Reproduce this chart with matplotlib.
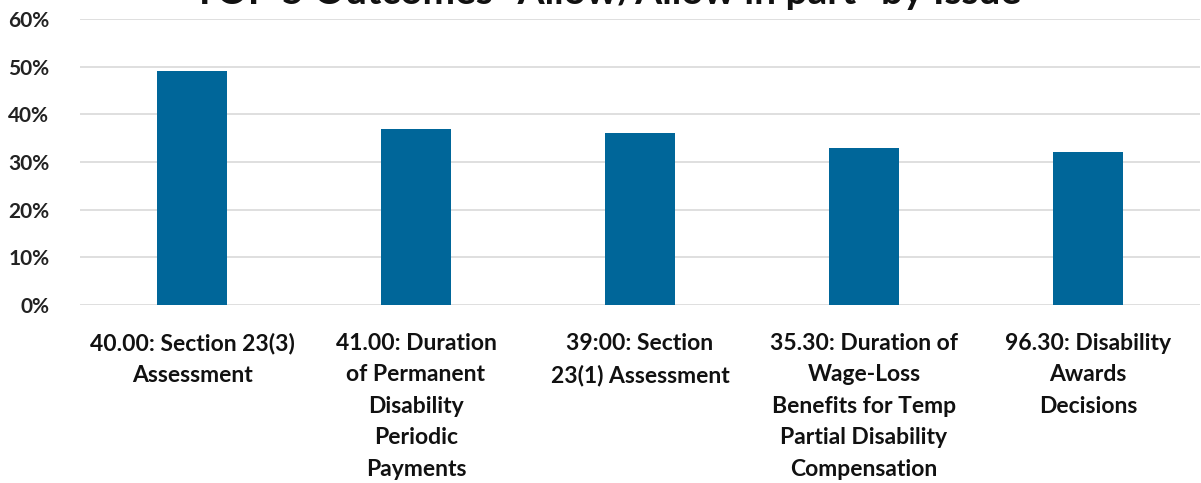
import matplotlib
matplotlib.use("Agg")
import matplotlib.pyplot as plt
from matplotlib.ticker import PercentFormatter

categories = [
    "40.00: Section 23(3)\nAssessment",
    "41.00: Duration\nof Permanent\nDisability\nPeriodic\nPayments",
    "39:00: Section\n23(1) Assessment",
    "35.30: Duration of\nWage-Loss\nBenefits for Temp\nPartial Disability\nCompensation",
    "96.30: Disability\nAwards\nDecisions",
]
values = [49, 37, 36, 33, 32]
yticks = [0, 10, 20, 30, 40, 50, 60]
title = "TOP 5 Outcomes \"Allow/Allow in part\" by Issue"

W, H = 1201, 483
fig = plt.figure(figsize=(W / 100, H / 100), dpi=100)
ax = fig.add_axes([80 / W, 1 - 305 / H, 1120 / W, (305 - 19) / H])

x = list(range(len(categories)))
ax.bar(x, values, width=0.31, color="#006699", zorder=3)
ax.set_xlim(-0.5, len(categories) - 0.5)
ax.set_ylim(0, 60)
ax.set_yticks(yticks)
ax.yaxis.set_major_formatter(PercentFormatter(decimals=0))
ax.grid(axis="y", color="#d9d9d9", linewidth=1.2, zorder=0)
for s in ax.spines.values():
    s.set_visible(False)
ax.tick_params(axis="both", length=0)
ax.tick_params(axis="y", pad=22)
ax.tick_params(axis="x", pad=20)
ax.set_xticks(x)
ax.set_xticklabels(categories, fontsize=16.5, family="Lato", fontweight="bold",
                   linespacing=1.62, color="#111111")
for lab in ax.get_yticklabels():
    lab.set_fontsize(15)
    lab.set_family("Lato")
    lab.set_fontweight("bold")
    lab.set_color("#222222")

fig.text(607 / W, 1 + 7 / H, title, ha="center", va="center", fontsize=28,
         family="Lato", fontweight="bold", color="#111111")

fig.savefig("out.png", dpi=100)
